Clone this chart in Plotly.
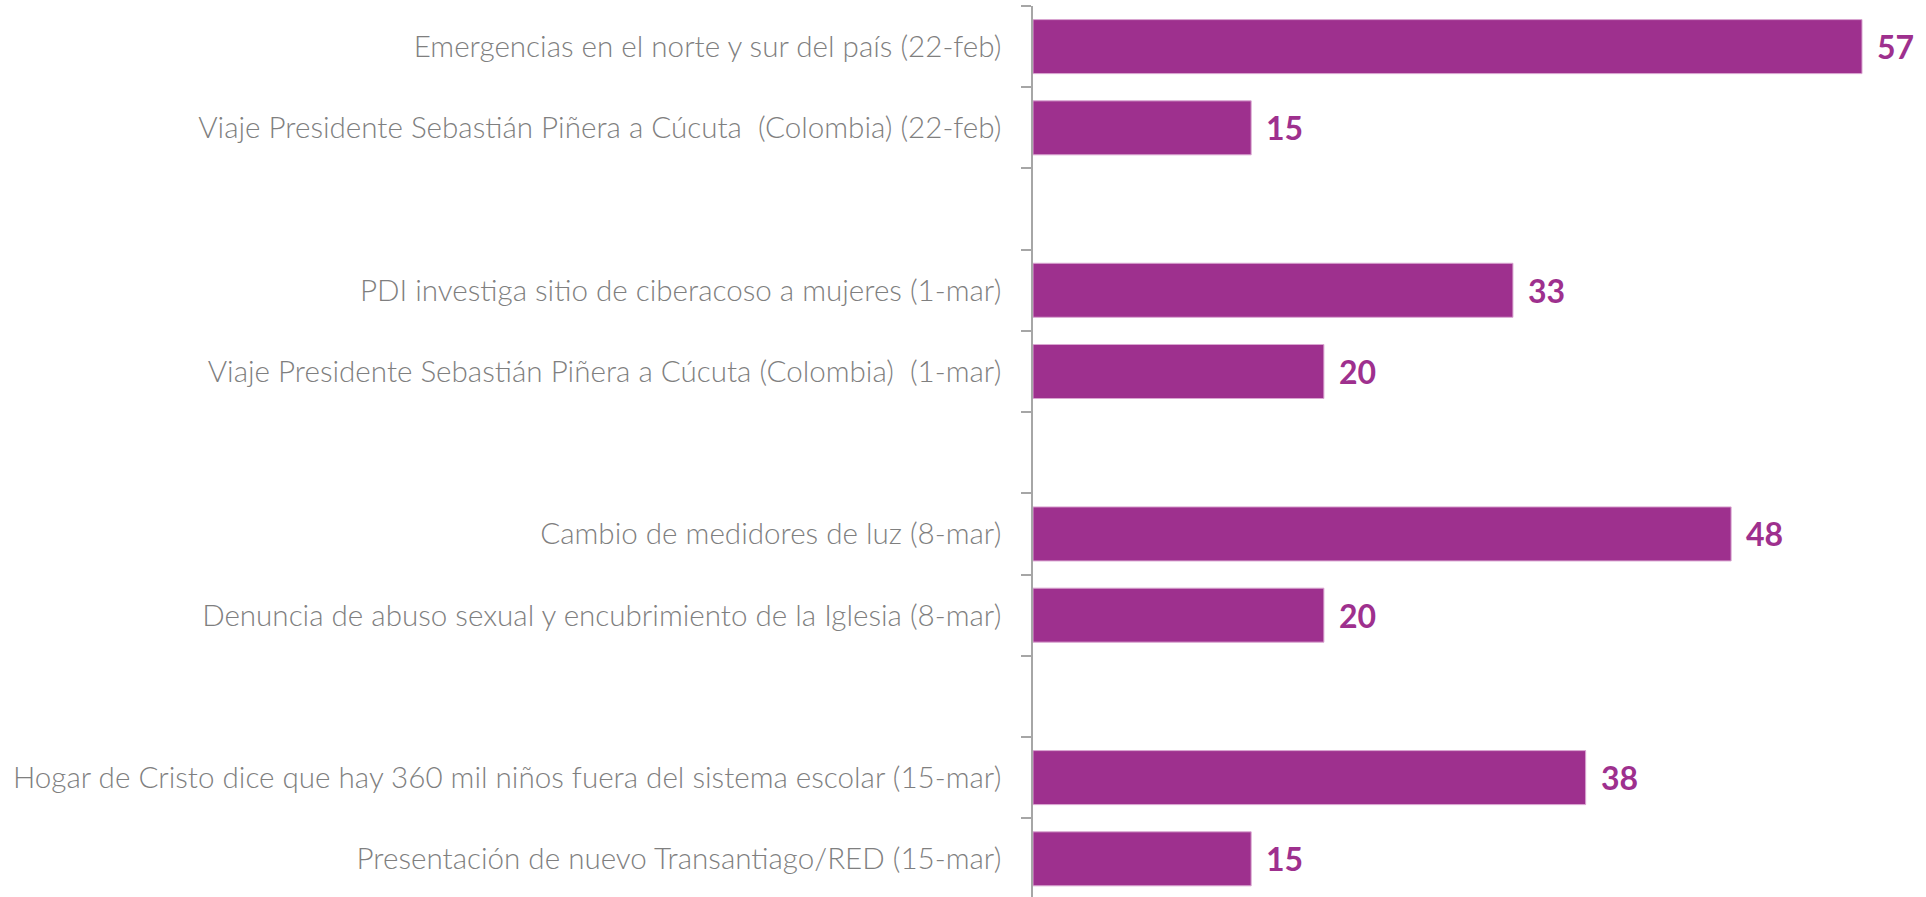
import plotly.graph_objects as go

# Topics and their mention counts, grouped by week (blank rows separate the weeks)
categories = [
    "Emergencias en el norte y sur del país (22-feb)",
    "Viaje Presidente Sebastián Piñera a Cúcuta  (Colombia) (22-feb)",
    " ",
    "PDI investiga sitio de ciberacoso a mujeres (1-mar)",
    "Viaje Presidente Sebastián Piñera a Cúcuta (Colombia)  (1-mar)",
    "  ",
    "Cambio de medidores de luz (8-mar)",
    "Denuncia de abuso sexual y encubrimiento de la Iglesia (8-mar)",
    "   ",
    "Hogar de Cristo dice que hay 360 mil niños fuera del sistema escolar (15-mar)",
    "Presentación de nuevo Transantiago/RED (15-mar)",
]
topic_labels = [c for c in categories if c.strip()]
topic_values = [57, 15, 33, 20, 48, 20, 38, 15]

BAR_COLOR = "#9E308E"
LABEL_COLOR = "#7F7F7F"
AXIS_COLOR = "#A6A6A6"

fig = go.Figure()
fig.add_trace(go.Bar(
    x=topic_values,
    y=topic_labels,
    orientation="h",
    width=0.665,
    marker=dict(color=BAR_COLOR, line=dict(color="#D9A6D1", width=1)),
    hoverinfo="x+y",
))

# Value labels to the right of each bar
for label, value in zip(topic_labels, topic_values):
    fig.add_annotation(
        x=value, y=label, text=f"<b>{value}</b>",
        xanchor="left", yanchor="middle", xshift=13, showarrow=False,
        font=dict(family="Lato", size=32, color=BAR_COLOR),
    )

fig.update_layout(
    width=1926, height=897,
    margin=dict(l=1033, r=0, t=6, b=0),
    paper_bgcolor="white", plot_bgcolor="white",
    showlegend=False,
    bargap=0.335,
    xaxis=dict(range=[0, 61.4], visible=False, fixedrange=True),
    yaxis=dict(
        type="category",
        categoryorder="array", categoryarray=categories,
        range=[10.47, -0.5],
        tickson="boundaries",
        ticks="outside", ticklen=10, tickcolor=AXIS_COLOR, tickwidth=1.5,
        showline=True, linecolor=AXIS_COLOR, linewidth=1.5,
        showgrid=False, zeroline=False,
        ticklabelstandoff=24,
        tickfont=dict(family="Lato", size=29.6, color=LABEL_COLOR, weight=300),
    ),
)

fig.write_html("out.html")
